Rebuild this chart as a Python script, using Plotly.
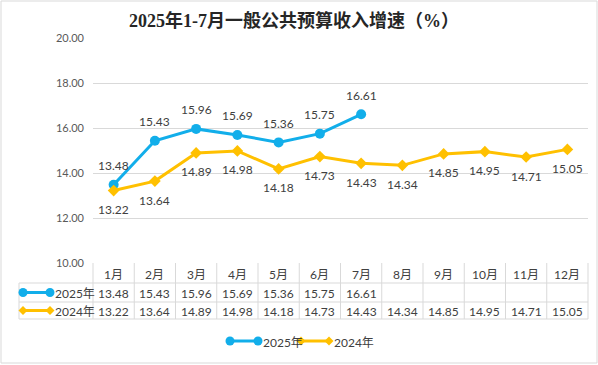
import plotly.graph_objects as go

months = ["1月", "2月", "3月", "4月", "5月", "6月", "7月", "8月", "9月", "10月", "11月", "12月"]
s2025_name = "2025年"
s2024_name = "2024年"
v2025 = [13.48, 15.43, 15.96, 15.69, 15.36, 15.75, 16.61]
v2024 = [13.22, 13.64, 14.89, 14.98, 14.18, 14.73, 14.43, 14.34, 14.85, 14.95, 14.71, 15.05]
yticks = [10, 12, 14, 16, 18, 20]
title = "2025年1-7月一般公共预算收入增速（%）"

W, H = 598, 365
BLUE = "#12AEEA"
GOLD = "#FFC000"
GRID = "#D9D9D9"
TXT = "#404040"
FONT = "Lato, Noto Sans CJK SC, sans-serif"

def px(x):
    return x / W

def py(y):
    return 1 - y / H

def font(size=12, color=TXT, family=FONT):
    return dict(size=size, color=color, family=family)

fig = go.Figure()
fig.add_trace(go.Scatter(x=months[:len(v2025)], y=v2025, name=s2025_name, mode="lines+markers",
                         line=dict(color=BLUE, width=3), marker=dict(symbol="circle", size=10, color=BLUE)))
fig.add_trace(go.Scatter(x=months, y=v2024, name=s2024_name, mode="lines+markers",
                         line=dict(color=GOLD, width=3), marker=dict(symbol="diamond", size=9, color=GOLD)))

ann = []
for m, v in zip(months, v2025):
    ann.append(dict(x=m, y=v, xref="x", yref="y", text=f"{v:.2f}", showarrow=False, yshift=19,
                    xanchor="center", yanchor="middle", font=font()))
for m, v in zip(months, v2024):
    ann.append(dict(x=m, y=v, xref="x", yref="y", text=f"{v:.2f}", showarrow=False, yshift=-19,
                    xanchor="center", yanchor="middle", font=font()))

# table
x0, x1 = 93, 588
col_w = (x1 - x0) / len(months)
y_hdr, y_r1, y_r2, y_end = 263, 283, 302, 319
shapes = []
line = dict(color=GRID, width=1)
for yy in (y_r1, y_r2, y_end):
    shapes.append(dict(type="line", xref="paper", yref="paper", x0=px(19), x1=px(x1), y0=py(yy), y1=py(yy), line=line))
shapes.append(dict(type="line", xref="paper", yref="paper", x0=px(19), x1=px(19), y0=py(y_r1), y1=py(y_end), line=line))
for i in range(len(months) + 1):
    xv = x0 + i * col_w
    shapes.append(dict(type="line", xref="paper", yref="paper", x0=px(xv), x1=px(xv), y0=py(y_hdr), y1=py(y_end), line=line))

def cell(xcat, ypix, text):
    return dict(x=xcat, y=py(ypix), xref="x", yref="paper", text=text, showarrow=False,
                xanchor="center", yanchor="middle", font=font())

for m in months:
    ann.append(cell(m, (y_hdr + y_r1) / 2 + 1, m))
for i, v in enumerate(v2025):
    ann.append(cell(months[i], (y_r1 + y_r2) / 2 + 1, f"{v:.2f}"))
for i, v in enumerate(v2024):
    ann.append(cell(months[i], (y_r2 + y_end) / 2 + 1, f"{v:.2f}"))

def key(yc, color, sym, xa, xb):
    out = [dict(type="line", xref="paper", yref="paper", x0=px(xa), x1=px(xb), y0=py(yc), y1=py(yc),
                line=dict(color=color, width=3))]
    r = 4.5
    for xc in (xa, xb):
        if sym == "circle":
            out.append(dict(type="circle", xref="paper", yref="paper", x0=px(xc - r), x1=px(xc + r),
                            y0=py(yc + r), y1=py(yc - r), fillcolor=color, line=dict(color=color, width=0)))
        else:
            path = (f"M {px(xc - r)} {py(yc)} L {px(xc)} {py(yc - r)} L {px(xc + r)} {py(yc)} "
                    f"L {px(xc)} {py(yc + r)} Z")
            out.append(dict(type="path", xref="paper", yref="paper", path=path, fillcolor=color,
                            line=dict(color=color, width=0)))
    return out

def label(xpix, ypix, text):
    return dict(x=px(xpix), y=py(ypix), xref="paper", yref="paper", text=text, showarrow=False,
                xanchor="left", yanchor="middle", font=font())

r1c = (y_r1 + y_r2) / 2
r2c = (y_r2 + y_end) / 2
shapes += key(r1c, BLUE, "circle", 23, 50)
shapes += key(r2c, GOLD, "diamond", 23, 50)
ann.append(label(53, r1c + 1, s2025_name))
ann.append(label(53, r2c + 1, s2024_name))

ly = 341
shapes += key(ly, BLUE, "circle", 230, 258)
shapes += key(ly, GOLD, "diamond", 301, 329)
ann.append(label(261, ly + 1, s2025_name))
ann.append(label(332, ly + 1, s2024_name))

shapes.append(dict(type="rect", xref="paper", yref="paper", x0=px(1), x1=px(597), y0=py(363), y1=py(1),
                   line=dict(color=GRID, width=1)))

ann.append(dict(x=px(294), y=py(21), xref="paper", yref="paper", text=f"<b>{title}</b>", showarrow=False,
                xanchor="center", yanchor="middle",
                font=font(18, "#262626", "Liberation Serif, Noto Sans CJK SC, serif")))

fig.update_layout(
    template="none",
    width=W, height=H, margin=dict(l=0, r=0, t=0, b=0, pad=0, autoexpand=False),
    paper_bgcolor="white", plot_bgcolor="white", showlegend=False,
    xaxis=dict(domain=[px(x0), px(x1)], range=[-0.5, len(months) - 0.5], categoryorder="array",
               categoryarray=months, showticklabels=False, showgrid=False, zeroline=False, ticks="",
               showline=False, automargin=False),
    yaxis=dict(domain=[py(263), py(38)], range=[10, 20], tickvals=yticks, tickformat=".2f",
               showgrid=True, gridcolor=GRID, gridwidth=1, zeroline=False, ticks="", ticklen=0,
               showline=False, automargin=False,
               tickfont=dict(size=11, color="#595959", family=FONT), ticklabelstandoff=8),
    shapes=shapes, annotations=ann,
)
fig.write_html("out.html", config={"displayModeBar": False},
               post_script="document.body.style.margin='0';document.body.style.overflow='hidden';")
